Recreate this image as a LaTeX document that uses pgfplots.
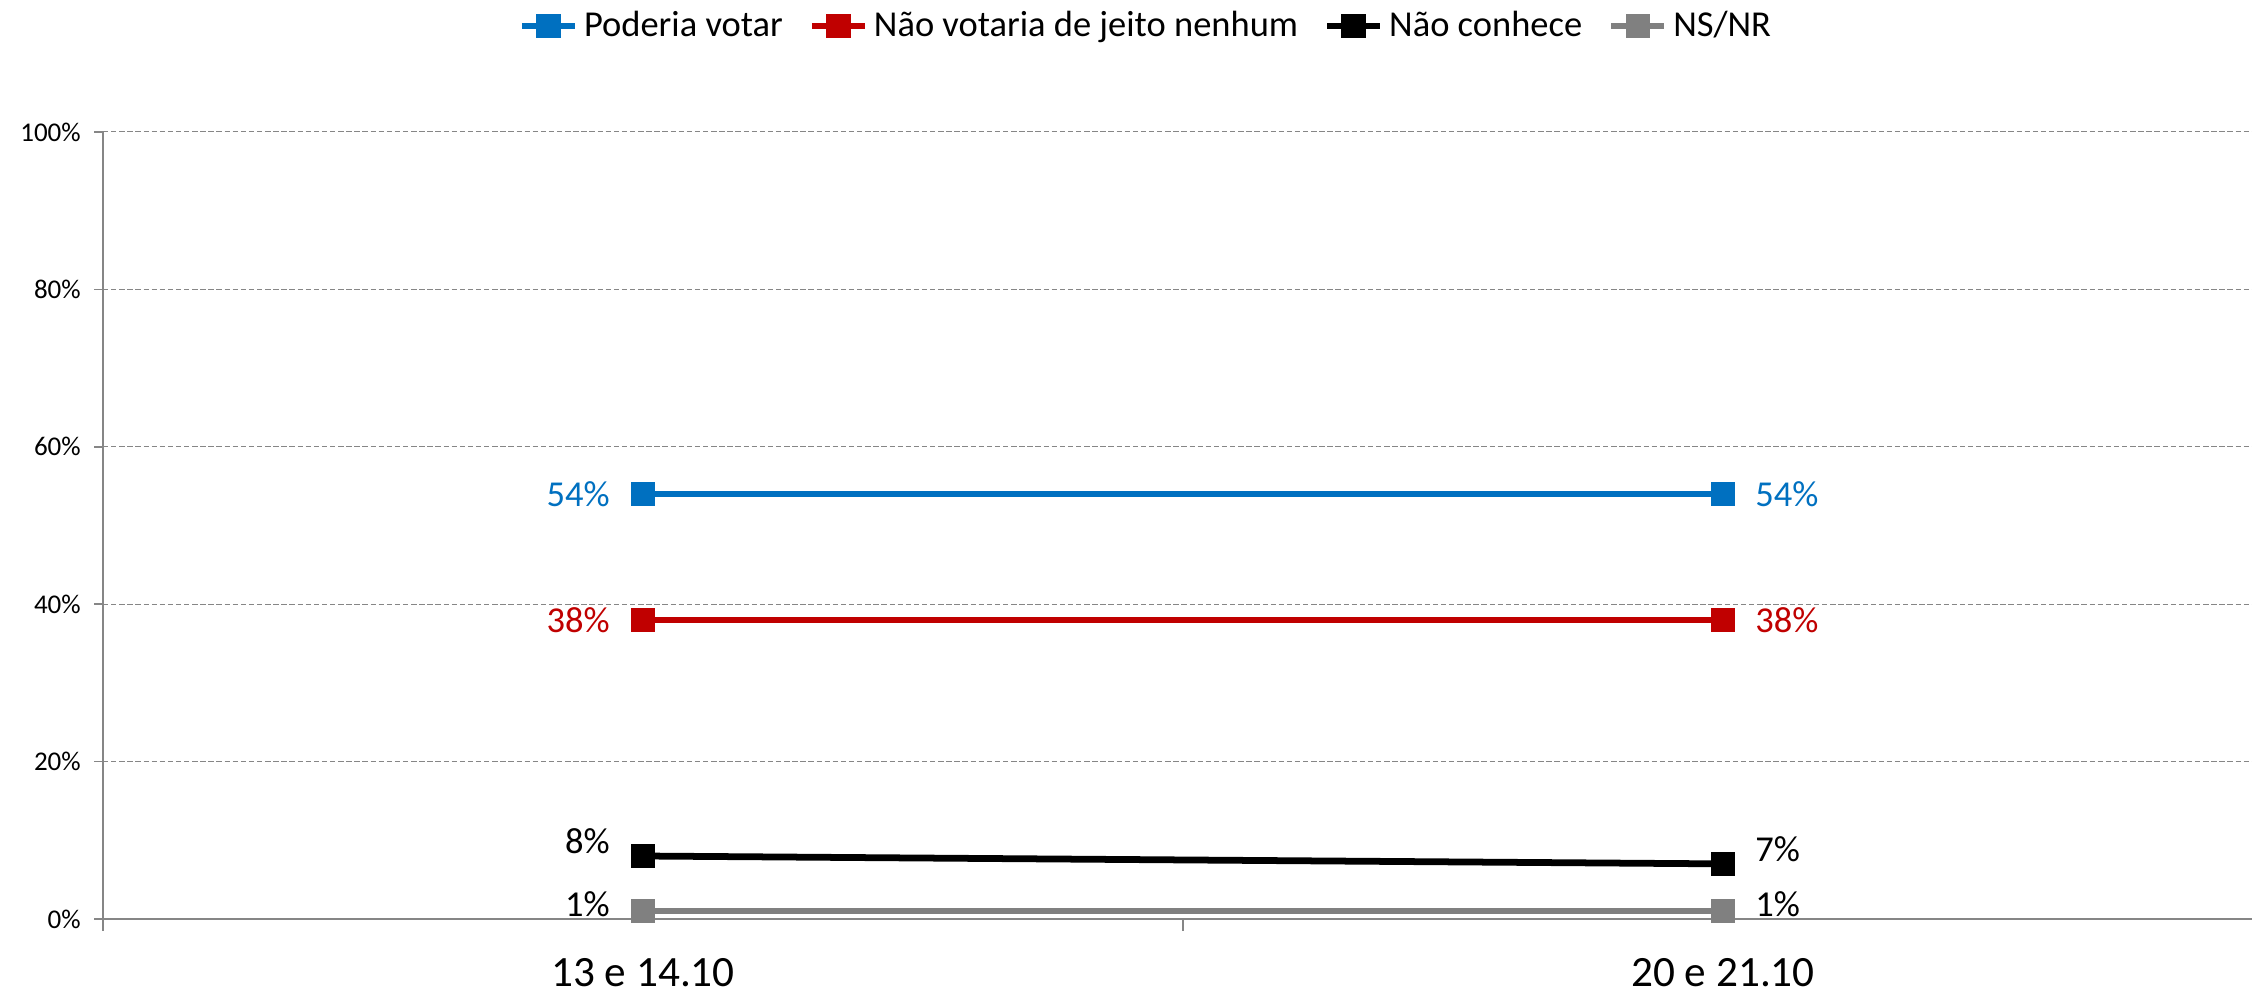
\documentclass[border=0pt]{standalone}
\usepackage{fontspec}
\setmainfont{Carlito}
\usepackage{pgfplots}
\pgfplotsset{compat=1.18}
\definecolor{cblue}{HTML}{0070C0}
\definecolor{cred}{HTML}{C00000}
\definecolor{cgray}{HTML}{808080}
\definecolor{axgray}{HTML}{868686}
\begin{document}
\begin{tikzpicture}
\path[use as bounding box] (-38.1pt,-27.75pt) rectangle (795.1pt,340pt);
\begin{axis}[
 at={(0,0)}, anchor=south west,
 scale only axis, width=795.2pt, height=291.2pt,
 xmin=-0.5, xmax=1.49, ymin=0, ymax=100,
 axis x line*=bottom, axis y line*=left,
 axis line style={axgray, line width=0.6pt},
 tick align=outside,
 major tick length=3.2pt,
 minor tick length=4.3pt,
 ytick={0,20,40,60,80,100},
 yticklabel={\pgfmathprintnumber{\tick}\%},
 /pgf/number format/assume math mode=true,
 yticklabel style={font=\fontsize{10}{12}\selectfont, xshift=-1.5pt},
 ymajorgrids,
 grid style={axgray, line width=0.4pt, dash pattern=on 2pt off 1pt},
 ytick style={axgray, line width=0.6pt},
 xtick={0,1},
 xticklabels={13 e 14.10, 20 e 21.10},
 xticklabel style={font=\fontsize{16}{19}\selectfont, yshift=-7.8pt},
 major x tick style={draw=none},
 minor xtick={-0.5,0.5,1.5},
 minor x tick style={axgray, line width=0.6pt},
 legend style={draw=none, fill=none, at={(0.486,1.1347)}, anchor=center,
   legend columns=4, font=\fontsize{13.5}{16}\selectfont,
   /tikz/every even column/.append style={column sep=7.5pt},
   legend cell align=left},
 legend image code/.code={
   \draw[mark repeat=2,mark phase=2,#1] plot coordinates {(0pt,0pt) (9.85pt,0pt) (19.7pt,0pt)};
 },
 every axis plot/.append style={line width=2.5pt, mark=square*, mark size=3.3pt, mark options={solid}},
 nodes near coords={\pgfmathprintnumber{\pgfplotspointmeta}\%},
 every node near coord/.append style={font=\fontsize{13.5}{16}\selectfont},
 coordinate style/.condition={x<0.5}{anchor=east, xshift=-7.7pt},
 coordinate style/.condition={x>0.5}{anchor=west, xshift=7.4pt},
]
\addplot[cblue] coordinates {(0,54) (1,54)};
\addlegendentry{Poderia votar}
\addplot[cred] coordinates {(0,38) (1,38)};
\addlegendentry{Não votaria de jeito nenhum}
\addplot[black, every node near coord/.append style={yshift=5.5pt}] coordinates {(0,8) (1,7)};
\addlegendentry{Não conhece}
\addplot[cgray, every node near coord/.append style={yshift=2.6pt, text=black}] coordinates {(0,1) (1,1)};
\addlegendentry{NS/NR}
\end{axis}
\end{tikzpicture}
\end{document}
